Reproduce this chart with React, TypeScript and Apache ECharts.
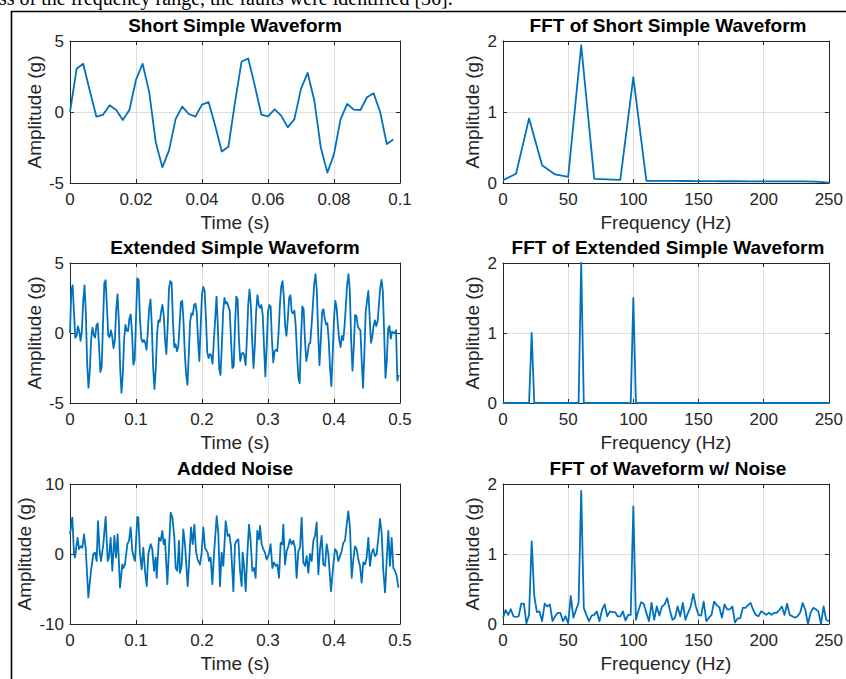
import React, { useEffect, useRef } from "react";
import * as echarts from "echarts";

// ---------- data ----------
const SAMPLE_DT = 0.002; // 500 Hz sampling

// Short simple waveform, t = 0 .. 0.098 s
const shortWave = [
  0, 3.04, 3.4, 1.5, -0.33, -0.2, 0.47, 0.14, -0.57, 0.14,
  2.26, 3.4, 1.4, -2.15, -3.9, -2.7, -0.5, 0.38, -0.14, -0.33,
  0.52, 0.7, -0.97, -2.78, -2.45, 0.68, 3.56, 3.77, 1.86, -0.19,
  -0.3, 0.19, -0.26, -1.08, -0.5, 1.63, 2.76, 0.85, -2.5, -4.27,
  -2.97, -0.5, 0.57, 0.17, 0.14, 1.04, 1.32, -0.02, -2.26, -1.93,
];

// FFT of short waveform, 0 .. 250 Hz every 10 Hz
const SHORT_FFT_STEP = 10;
const shortFft = [
  0.04, 0.13, 0.91, 0.25, 0.12, 0.085, 1.94, 0.057, 0.05, 0.045,
  1.49, 0.03, 0.03, 0.029, 0.028, 0.027, 0.026, 0.025, 0.025, 0.024,
  0.024, 0.023, 0.023, 0.022, 0.02, 0.005,
];

// Extended waveform, continuation from t = 0.100 .. 0.498 s
const extendedWaveTail = [
  1.0, 3.9, 3.8, 1.0, -0.4, -0.65, -0.5, -0.7, -1.2, 0.2,
  1.8, 2.4, 0.5, -2.5, -4.0, -2.5, 0.0, 0.9, 0.8, 1.5,
  2.0, 1.3, -0.5, -1.5, 0.5, 3.2, 3.7, 3.6, 0.8, -1.0,
  -0.8, -1.3, -1.0, 0.5, 2.2, 2.3, 0.8, -1.5, -3.0, -3.7,
  -1.5, 0.8, 1.4, 1.3, 2.0, 2.1, 1.5, -0.5, -2.0, 0.5,
  2.8, 3.3, 3.0, 1.0, -1.4, -1.8, -1.5, -1.6, -2.2, -0.5,
  1.0, 2.6, 0.5, -2.5, -3.0, -1.0, 1.5, 2.5, 2.1, 2.2,
  1.9, 1.6, -0.5, -2.5, -2.4, 0.5, 2.6, 2.4, -0.5, -2.0,
  -1.5, -1.4, -1.6, -2.3, -0.5, 2.0, 3.1, 2.0, -0.5, -2.5,
  -1.0, 1.5, 2.7, 2.0, 1.8, 2.0, 1.3, -1.0, -3.1, -1.0,
  1.5, 2.0, 1.9, -0.5, -2.1, -1.3, -1.2, -1.3, 0.0, 2.0,
  3.3, 3.7, 2.6, 0.5, -0.2, 1.0, 2.5, 2.7, 1.5, 1.4,
  1.6, 0.5, -1.5, -3.2, -3.6, -0.5, 1.9, 1.7, -0.5, -2.0,
  -1.5, -0.8, -0.7, 0.5, 2.0, 3.5, 4.2, 3.0, 0.0, -2.3,
  -0.5, 1.5, 1.7, 1.0, 0.6, 0.7, -0.5, -2.5, -3.8, -1.5,
  1.0, 2.3, 1.8, 0.5, -0.5, -1.0, -0.2, -0.5, 0.5, 2.0,
  3.5, 4.2, 3.0, -0.5, -2.7, -1.0, 1.3, 1.2, 0.5, 0.3,
  0.2, -2.0, -3.9, -1.5, 1.5, 2.3, 3.0, 1.2, -0.7, -0.3,
  0.5, 0.9, 0.5, 0.8, 2.0, 3.2, 3.8, 3.0, 0.0, -3.2,
  -2.0, 0.3, 0.5, -0.4, 0.1, 0.0, 0.0, 0.2, -3.4, -3.0,
];

// FFT of extended waveform (Hz, amplitude) – narrow peaks on a zero floor
const extendedFft: [number, number][] = [
  [0, 0], [20, 0], [22, 1.0], [24, 0], [58, 0], [60, 2.0], [62, 0],
  [98, 0], [100, 1.5], [102, 0], [250, 0],
];

// Waveform with added noise (t s, amplitude g)
const noiseWave: [number, number][] = [
  [0, 2.8], [0.0035, 5.2], [0.0061, 0], [0.0076, -0.5], [0.0101, 1.4], [0.0116, 2.3], [0.0136, 0.7],
  [0.0162, 1.1], [0.0187, 0.9], [0.0212, 2.8], [0.0237, 0.9], [0.0278, -6.2], [0.0318, -2.4], [0.0354, 0],
  [0.0379, 0.2], [0.0404, -1.0], [0.0424, 4.7], [0.0449, 0.4], [0.047, -1.0], [0.0505, 1.4], [0.054, 5.3],
  [0.0571, -1.0], [0.0591, -0.5], [0.0616, 2.3], [0.0641, -2.4], [0.0672, 2.6], [0.0697, -0.5], [0.0722, 2.8],
  [0.0758, -4.8], [0.0793, -1.5], [0.0808, -2.0], [0.0833, -1.5], [0.0869, 1.4], [0.0894, 1.9], [0.0919, 3.8],
  [0.0944, 0.4], [0.0985, -1.0], [0.102, 5.3], [0.1035, 5.2], [0.1061, 0], [0.1086, -2.2], [0.1111, 0.9],
  [0.1136, -2.4], [0.1162, -4.6], [0.1187, 0], [0.1222, 1.4], [0.1247, 0.7], [0.1273, -2.4], [0.1298, -0.5],
  [0.1313, -3.4], [0.1348, 2.3], [0.1374, 1.9], [0.1399, 3.3], [0.1419, 1.4], [0.1439, 2.1], [0.1475, -4.3],
  [0.1525, 5.9], [0.1551, 5.2], [0.1581, 2.3], [0.1601, -2.0], [0.1626, -2.4], [0.1652, 1.9], [0.1667, -2.7],
  [0.1692, -1.7], [0.1717, 3.5], [0.1742, 1.4], [0.1783, -4.6], [0.1803, -1.5], [0.1833, 3.8], [0.1859, 1.4],
  [0.1884, 4.2], [0.1909, 0.4], [0.1934, -0.8], [0.197, -1.5], [0.1995, 0.2], [0.202, 3.8], [0.2045, 0.9],
  [0.2086, 0.2], [0.2106, -1.0], [0.2131, -0.5], [0.2157, -4.3], [0.2182, 0], [0.2222, 5.4], [0.2247, 3.0],
  [0.2273, -4.6], [0.2298, 0.2], [0.2323, -1.7], [0.2359, 4.7], [0.2389, 2.6], [0.2414, 2.8], [0.2439, 1.1],
  [0.2475, -5.3], [0.25, 1.4], [0.2525, 1.9], [0.2551, 2.1], [0.2576, -2.4], [0.2601, -4.6], [0.2616, 0.2],
  [0.2636, -1.5], [0.2662, -5.3], [0.2687, 0], [0.2712, 4.2], [0.2737, 1.9], [0.2763, -2.4], [0.2788, -2.0],
  [0.2813, -3.4], [0.2838, 3.3], [0.2864, 2.1], [0.2879, 4.0], [0.2904, 1.4], [0.2929, 0.7], [0.2955, 0.2],
  [0.298, -0.8], [0.3015, 0], [0.304, 1.4], [0.3066, -2.0], [0.3091, -1.2], [0.3116, -1.7], [0.3141, -1.5],
  [0.3167, -3.4], [0.3192, 1.6], [0.3217, 1.4], [0.3232, 4.2], [0.3258, -1.5], [0.3283, 0.4], [0.3308, 1.1],
  [0.3333, 2.1], [0.3359, 1.4], [0.3384, 1.9], [0.3409, 0.9], [0.3434, -3.4], [0.346, 0.4], [0.3485, 0.9],
  [0.351, 5.2], [0.3535, -1.2], [0.3561, -1.7], [0.3586, -0.3], [0.3611, -2.7], [0.3636, 0], [0.3662, -1.0],
  [0.3687, 1.9], [0.3712, 2.6], [0.3737, 4.5], [0.3763, -2.9], [0.3788, 0.7], [0.3813, 2.6], [0.3838, -1.5],
  [0.3864, -1.7], [0.3889, 1.4], [0.3914, 0], [0.3955, -5.3], [0.399, -1.5], [0.4015, 0.7], [0.404, 0.4],
  [0.4066, -1.0], [0.4091, -0.3], [0.4116, 0.4], [0.4141, 1.6], [0.4167, 1.9], [0.4192, 4.2], [0.4217, 6.1],
  [0.4242, 3.8], [0.4268, -3.4], [0.4293, -0.8], [0.4318, 1.1], [0.4343, 0.7], [0.4369, -0.8], [0.4394, -1.7],
  [0.4419, -4.1], [0.4444, -1.2], [0.447, -1.5], [0.4495, -0.5], [0.452, 2.3], [0.4545, -1.7], [0.4571, 0.2],
  [0.4596, 0.7], [0.4621, -0.3], [0.4646, 0], [0.4672, 2.3], [0.4697, 5.0], [0.4722, 3.0], [0.4747, -2.4],
  [0.4773, -5.5], [0.4798, -1.0], [0.4823, 3.3], [0.4848, -1.7], [0.4874, 2.3], [0.4899, -2.0], [0.4924, -2.4],
  [0.4949, -3.1], [0.4975, -4.8],
];

// FFT of waveform with noise, 0 .. 250 Hz every 2 Hz
const NOISE_FFT_STEP = 2;
const noiseFft = [
  0.09, 0.2, 0.13, 0.21, 0.11, 0.1, 0.11, 0.29, 0.29, 0.01,
  0.13, 1.18, 0.4, 0.17, 0.18, 0.04, 0.29, 0.25, 0.28, 0.04,
  0.11, 0.16, 0.16, 0.04, 0.11, 0.01, 0.4, 0.09, 0.2, 0.3,
  1.9, 0.23, 0.13, 0.04, 0.12, 0.13, 0.18, 0.04, 0.2, 0.28,
  0.11, 0.18, 0.17, 0.17, 0.11, 0.11, 0.18, 0.05, 0.13, 0.13,
  1.68, 0.06, 0.2, 0.31, 0.29, 0.16, 0.04, 0.3, 0.06, 0.25,
  0.12, 0.25, 0.28, 0.37, 0.2, 0.06, 0.09, 0.25, 0.11, 0.3,
  0.06, 0.16, 0.25, 0.43, 0.25, 0.13, 0.12, 0.32, 0.04, 0.09,
  0.13, 0.32, 0.27, 0.24, 0.09, 0.28, 0.21, 0.21, 0.25, 0.02,
  0.08, 0.08, 0.23, 0.23, 0.27, 0.3, 0.2, 0.13, 0.11, 0.18,
  0.16, 0.13, 0.16, 0.13, 0.16, 0.16, 0.2, 0.25, 0.13, 0.29,
  0.13, 0.11, 0.09, 0.11, 0.16, 0.3, 0.2, 0.0, 0.16, 0.23,
  0.21, 0.18, 0.0, 0.25, 0.06, 0.04,
];

const panelTitles = [
  "Short Simple Waveform",
  "FFT of Short Simple Waveform",
  "Extended Simple Waveform",
  "FFT of Extended Simple Waveform",
  "Added Noise",
  "FFT of Waveform w/ Noise",
];
const timeLabel = "Time (s)";
const freqLabel = "Frequency (Hz)";
const ampLabel = "Amplitude (g)";
const captionText = "ss of the frequency range, the faults were identified [36].";

// ---------- styling / layout ----------
const FONT = '"Liberation Sans", Arial, Helvetica, sans-serif';
const AXIS_COLOR = "#262626";
const GRID_COLOR = "#dedede";
const LINE_COLOR = "#0072BD";
const COL_X = [70, 503];
const PLOT_W = 330;
const ROW_TOP = [41, 263, 484];
const ROW_H = [142, 140, 140];
const TITLE_Y = [25, 247, 468];

type AxisSpec = { min: number; max: number; interval: number };

function buildOption() {
  const grids: any[] = [];
  const xAxes: any[] = [];
  const yAxes: any[] = [];
  const series: any[] = [];
  const graphics: any[] = [];

  const extendedWave = shortWave.concat(extendedWaveTail);
  const panelData: [number, number][][] = [
    shortWave.map((v, i) => [i * SAMPLE_DT, v] as [number, number]),
    shortFft.map((v, i) => [i * SHORT_FFT_STEP, v] as [number, number]),
    extendedWave.map((v, i) => [i * SAMPLE_DT, v] as [number, number]),
    extendedFft,
    noiseWave,
    noiseFft.map((v, i) => [i * NOISE_FFT_STEP, v] as [number, number]),
  ];

  const xSpecs: AxisSpec[] = [
    { min: 0, max: 0.1, interval: 0.02 },
    { min: 0, max: 250, interval: 50 },
    { min: 0, max: 0.5, interval: 0.1 },
    { min: 0, max: 250, interval: 50 },
    { min: 0, max: 0.5, interval: 0.1 },
    { min: 0, max: 250, interval: 50 },
  ];
  const ySpecs: AxisSpec[] = [
    { min: -5, max: 5, interval: 5 },
    { min: 0, max: 2, interval: 1 },
    { min: -5, max: 5, interval: 5 },
    { min: 0, max: 2, interval: 1 },
    { min: -10, max: 10, interval: 10 },
    { min: 0, max: 2, interval: 1 },
  ];
  const yNameGaps = [26.5, 21, 26.5, 21, 36.5, 21];

  for (let p = 0; p < 6; p++) {
    const row = Math.floor(p / 2);
    const col = p % 2;
    grids.push({
      left: COL_X[col],
      top: ROW_TOP[row],
      width: PLOT_W,
      height: ROW_H[row],
      containLabel: false,
    });
    const axisLine = { show: true, onZero: false, lineStyle: { color: AXIS_COLOR, width: 1 } };
    const tick = { show: true, inside: true, length: 4, lineStyle: { color: AXIS_COLOR, width: 1 } };
    const labelStyle = { fontSize: 17, color: AXIS_COLOR, fontFamily: FONT };
    // bottom x axis
    xAxes.push({
      gridIndex: p,
      type: "value",
      position: "bottom",
      ...xSpecs[p],
      name: col === 0 ? timeLabel : freqLabel,
      nameLocation: "middle",
      nameGap: 30,
      nameTextStyle: { fontSize: 19, color: AXIS_COLOR, fontFamily: FONT },
      axisLine,
      axisTick: tick,
      axisLabel: { ...labelStyle, margin: 8, showMinLabel: true, showMaxLabel: true },
      splitLine: { show: true, lineStyle: { color: GRID_COLOR, width: 1 } },
    });
    // top x axis (ticks only)
    xAxes.push({
      gridIndex: p,
      type: "value",
      position: "top",
      ...xSpecs[p],
      axisLine,
      axisTick: tick,
      axisLabel: { show: false },
      splitLine: { show: false },
    });
    // left y axis
    yAxes.push({
      gridIndex: p,
      type: "value",
      position: "left",
      ...ySpecs[p],
      name: ampLabel,
      nameLocation: "middle",
      nameGap: yNameGaps[p],
      nameTextStyle: { fontSize: 19, color: AXIS_COLOR, fontFamily: FONT },
      axisLine,
      axisTick: tick,
      axisLabel: { ...labelStyle, margin: 6, showMinLabel: true, showMaxLabel: true },
      splitLine: { show: true, lineStyle: { color: GRID_COLOR, width: 1 } },
    });
    // right y axis (ticks only)
    yAxes.push({
      gridIndex: p,
      type: "value",
      position: "right",
      ...ySpecs[p],
      axisLine,
      axisTick: tick,
      axisLabel: { show: false },
      splitLine: { show: false },
    });
    series.push({
      type: "line",
      xAxisIndex: p * 2,
      yAxisIndex: p * 2,
      data: panelData[p],
      showSymbol: false,
      symbol: "none",
      clip: true,
      lineStyle: { color: LINE_COLOR, width: 1.8, join: "round" },
      z: 3,
    });
    graphics.push({
      type: "text",
      x: COL_X[col] + PLOT_W / 2,
      y: TITLE_Y[row],
      silent: true,
      style: {
        text: panelTitles[p],
        align: "center",
        verticalAlign: "middle",
        fontSize: 19,
        fontWeight: "bold",
        fontFamily: FONT,
        fill: "#000",
      },
    });
  }

  // figure frame and the clipped document caption above it
  graphics.push({
    type: "rect",
    silent: true,
    shape: { x: 11.5, y: 11.5, width: 1200, height: 1200 },
    style: { fill: "none", stroke: "#000", lineWidth: 1.6 },
  });
  graphics.push({
    type: "text",
    x: -1,
    y: -2,
    silent: true,
    style: {
      text: captionText,
      align: "left",
      verticalAlign: "middle",
      fontSize: 20,
      fontFamily: '"Liberation Serif", "Times New Roman", serif',
      fill: "#000",
    },
  });

  return {
    animation: false,
    backgroundColor: "#ffffff",
    grid: grids,
    xAxis: xAxes,
    yAxis: yAxes,
    series,
    graphic: graphics,
  };
}

export default function App() {
  const ref = useRef<HTMLDivElement>(null);
  useEffect(() => {
    if (!ref.current) return;
    const chart = echarts.init(ref.current, undefined, { renderer: "svg" });
    chart.setOption(buildOption());
    return () => chart.dispose();
  }, []);
  return (
    <div
      ref={ref}
      style={{ position: "fixed", left: 0, top: 0, width: 846, height: 679, background: "#fff" }}
    />
  );
}
